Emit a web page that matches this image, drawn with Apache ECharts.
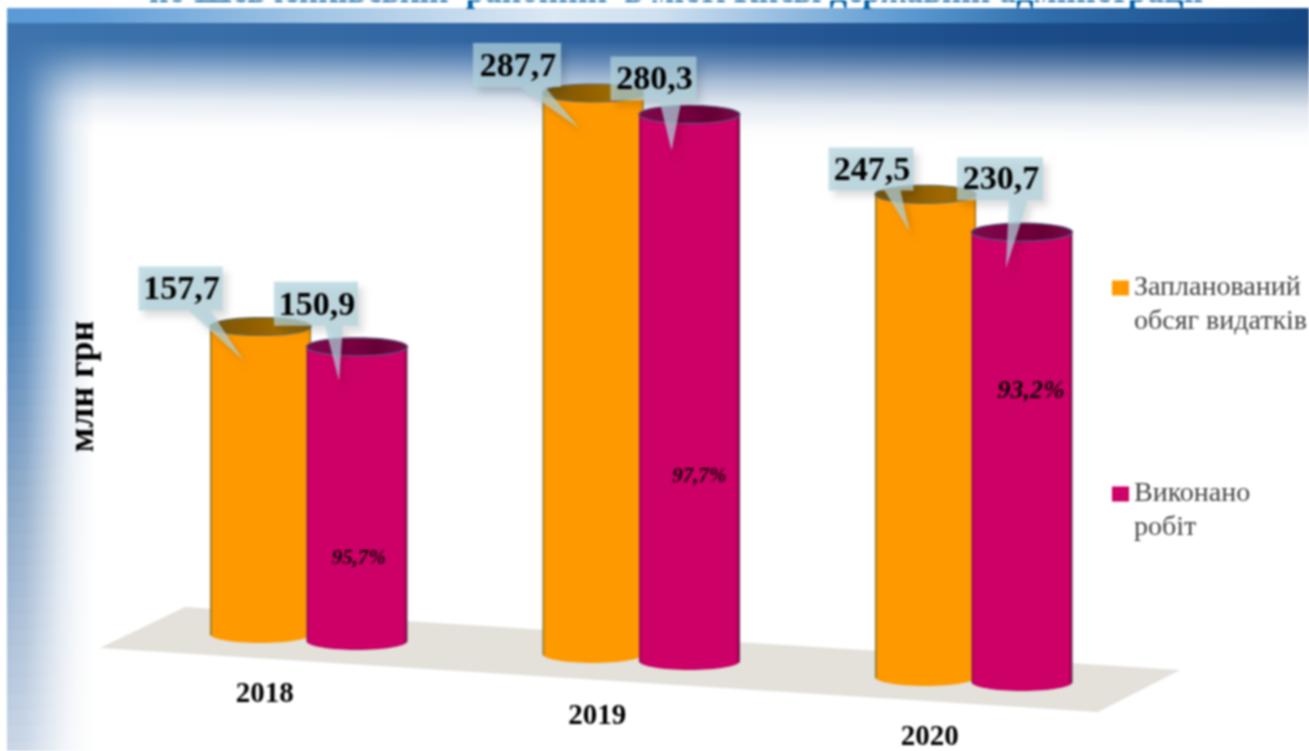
<!DOCTYPE html>
<html>
<head>
<meta charset="utf-8">
<style>
html,body{margin:0;padding:0;background:#fff;overflow:hidden}
#chart{width:1309px;height:751px;filter:blur(0.8px)}
</style>
<script src="https://cdn.jsdelivr.net/npm/echarts@6/dist/echarts.min.js"></script>
</head>
<body>
<div id="chart"></div>
<script>
// ---- data ----
const categories = ['2018', '2019', '2020'];
const plannedName = 'Запланований обсяг видатків';
const doneName = 'Виконано робіт';
const plannedValues = [157.7, 287.7, 247.5];
const doneValues = [150.9, 280.3, 230.7];
const donePercents = ['95,7%', '97,7%', '93,2%'];
const titleText = 'по Шевченківській  районній  в місті Києві державній адміністрації';
const unitText = 'млн грн';

// ---- layout / style (perspective of the picture, not data) ----
const SERIF = '"Liberation Serif", serif';
const ORANGE = '#FF9900', MAGENTA = '#CC0066';
const plannedDrop = [0, 20, 43], doneDrop = [7, 27, 48];
const plannedCallout = [
  {box: [-122, -60, 84, 44], base: [-72, -50], tip: [-17, 34]},
  {box: [-120, -50, 88, 44], base: [-73, -48], tip: [-14, 35]},
  {box: [-97, -47, 85, 43], base: [-41, -25], tip: [-16, 37]}
];
const doneCallout = [
  {box: [-83, -65, 84, 44], base: [-32, -14], tip: [-18, 34]},
  {box: [-79, -58, 86, 44], base: [-30, -8], tip: [-18, 36]},
  {box: [-65, -75, 86, 43], base: [-13, 6], tip: [-16, 36]}
];
const percentPlace = [{dx: 2, dy: 212, size: 21}, {dx: 10, dy: 362, size: 21}, {dx: 9, dy: 159, size: 26}];

function hex(c){return [1,3,5].map(i=>parseInt(c.substr(i,2),16));}
function lerpColor(stops, t){
  for(let i=1;i<stops.length;i++){
    if(t<=stops[i][0]){
      const a=stops[i-1],b=stops[i],k=(t-a[0])/(b[0]-a[0]);
      const ca=hex(a[1]),cb=hex(b[1]);
      return ca.map((v,j)=>Math.round(v+(cb[j]-v)*k));
    }
  }
  return hex(stops[stops.length-1][1]);
}
function buildBackground(){
  const W=1309,H=751,out=[];
  // left column: colour depends on y, alpha on x
  const colStops=[[0,'#4279b3'],[300,'#4a80b8'],[500,'#8ca8c8'],[751,'#c8d5e6']];
  const colAlpha=[[0,1],[.2,.9],[.4,.6],[.6,.3],[.77,.12],[1,0]];
  for(let y=22;y<H;y+=16){
    const c=lerpColor(colStops,y+8).join(',');
    out.push({type:'rect',silent:true,shape:{x:7,y:y,width:88,height:16},
      style:{fill:{type:'linear',x:0,y:0,x2:1,y2:0,colorStops:colAlpha.map(s=>({offset:s[0],color:'rgba('+c+','+s[1]+')'}))}}});
  }
  // top fade: colour depends on x, alpha on y (pixel rows, relative to the top of the fade)
  const topStops=[[0,'#3f75ae'],[650,'#2b5f9c'],[1000,'#1c4d8a'],[1309,'#16457f']];
  const topAlpha=[[0,1],[18,1],[33,.8],[55,.42],[78,.13],[103,.01],[115,0]];
  for(let x=7;x<W;x+=24){
    const c=lerpColor(topStops,x+12).join(',');
    const h=115+14*x/W;
    out.push({type:'rect',silent:true,shape:{x:x,y:22,width:24,height:h},
      style:{fill:{type:'linear',x:0,y:0,x2:0,y2:1,colorStops:topAlpha.map(s=>({offset:s[0]/115,color:'rgba('+c+','+s[1]+')'}))}}});
  }
  // lighter band under the title
  const bandStops=[[0,'#5b9bd5'],[.06,'#5f9dd8'],[.23,'#a0c4e4'],[.42,'#dce8f3'],[.5,'#d0e0f0'],[.61,'#8db8de'],[.69,'#5c9ad2'],[.8,'#2f6dab'],[1,'#144580']];
  out.push({type:'rect',silent:true,shape:{x:7,y:8,width:W-7,height:15},
    style:{fill:{type:'linear',x:0,y:0,x2:1,y2:0,colorStops:bandStops.map(s=>({offset:s[0],color:s[1]}))}}});
  // floor
  out.push({type:'polygon',silent:true,shape:{points:[[100,648],[185,607],[1180,670],[1098,712]]},style:{fill:'#E3E1DA'}});
  return out;
}

function cylinder(cx, r, topY, baseY, ry, bodyStops, capStops, edge){
  const body=[[cx-r,topY],[cx+r,topY]];
  for(let k=0;k<=32;k++){
    const a=Math.PI*k/32;
    body.push([cx+r*Math.cos(a),baseY+ry*Math.sin(a)]);
  }
  const cap=[];
  for(let k=0;k<48;k++){
    const a=2*Math.PI*k/48;
    cap.push([cx+r*Math.cos(a),topY+ry*Math.sin(a)]);
  }
  const grad=(st)=>new echarts.graphic.LinearGradient(0,0,1,0,st.map(s=>({offset:s[0],color:s[1]})));
  return {type:'group',children:[
    {type:'polygon',shape:{points:body},style:{fill:grad(bodyStops)}},
    {type:'polygon',shape:{points:cap},style:{fill:grad(capStops),stroke:edge,lineWidth:1.2}}
  ]};
}
const orangeBody=[[0,'#6d6030'],[.012,'#b98a20'],[.03,ORANGE],[.97,ORANGE],[.988,'#d98400'],[1,'#7a6030']];
const orangeCap=[[0,'#7a5a10'],[.35,'#8c5c00'],[.7,'#a06a00'],[1,'#8a6410']];
const magentaBody=[[0,'#70305a'],[.012,'#a80058'],[.03,MAGENTA],[.96,MAGENTA],[.985,'#9a0050'],[1,'#5a3a5a']];
const magentaCap=[[0,'#7a0a48'],[.4,'#7c0044'],[.7,'#650035'],[1,'#7a0a48']];

function cylinderSeries(name, values, color, drops, side, bodyStops, capStops, edge){
  return {
    type:'custom', name:name, itemStyle:{color:color}, z:3,
    data:values.map((v,i)=>[i,v]), encode:{x:0,y:1},
    renderItem:function(params,api){
      const i=api.value(0);
      const band=api.size([1,0])[0];
      const top=api.coord([i,api.value(1)]), zero=api.coord([i,0]);
      const cx=top[0]+side*band*0.145, r=band*0.152;
      return cylinder(cx,r,top[1]+drops[i],zero[1]+drops[i],9,bodyStops,capStops,edge);
    }
  };
}
function calloutSeries(name, values, drops, side, place, percents){
  return {
    type:'custom', name:name, z:5, tooltip:{show:false},
    data:values.map((v,i)=>[i,v]), encode:{x:0,y:1},
    renderItem:function(params,api){
      const i=api.value(0);
      const band=api.size([1,0])[0];
      const top=api.coord([i,api.value(1)]);
      const cx=top[0]+side*band*0.145, cy=top[1]+drops[i];
      const p=place[i], b=p.box;
      const x0=cx+b[0], y0=cy+b[1], x1=x0+b[2], y1=y0+b[3];
      const kids=[
        {type:'polygon',shape:{points:[[x0,y0],[x1,y0],[x1,y1],[cx+p.base[1],y1],[cx+p.tip[0],cy+p.tip[1]],[cx+p.base[0],y1],[x0,y1]]},
          style:{fill:'rgba(176,210,220,0.72)',shadowColor:'rgba(0,0,0,0.18)',shadowBlur:7,shadowOffsetX:5,shadowOffsetY:6}},
        {type:'text',style:{x:(x0+x1)/2+1,y:(y0+y1)/2+2,text:String(api.value(1)).replace('.',','),
          font:'bold 34px '+SERIF,fill:'#000',align:'center',verticalAlign:'middle'}}
      ];
      if(percents){
        const q=percentPlace[i];
        kids.push({type:'text',style:{x:cx+q.dx,y:cy+q.dy,text:percents[i],
          font:'italic bold '+q.size+'px '+SERIF,fill:'#100008',align:'center',verticalAlign:'middle'}});
      }
      return {type:'group',children:kids};
    }
  };
}

const yearRich={};
categories.forEach((c,i)=>{
  yearRich['y'+i]={padding:[[0,22,43][i],88,0,0],fontFamily:SERIF,fontWeight:'bold',fontSize:29,color:'#000'};
});

const chart=echarts.init(document.getElementById('chart'),null,{renderer:'canvas'});
chart.setOption({
  animation:false,
  backgroundColor:'#ffffff',
  title:{text:titleText,left:149,top:-24,padding:0,itemGap:0,
    textStyle:{fontFamily:SERIF,fontWeight:'bold',fontSize:34.2,color:'#0060A8'}},
  graphic:{elements:buildBackground()},
  grid:{left:142.5,width:997.5,top:49,height:585,containLabel:false,outerBoundsMode:'none'},
  legend:{orient:'vertical',left:1112,top:237,padding:0,itemWidth:17,itemHeight:15,itemGap:104,
    data:[{name:plannedName,icon:'rect'},{name:doneName,icon:'rect'}],
    selectedMode:false,
    formatter:n=>'\n'+n.replace(' ','\n'),
    textStyle:{fontFamily:SERIF,fontSize:28,lineHeight:34,color:'#444'}},
  xAxis:{type:'category',data:categories,axisLine:{show:false},axisTick:{show:false},
    axisLabel:{margin:46,interval:0,formatter:(v,i)=>'{y'+i+'|'+v+'}',rich:yearRich}},
  yAxis:{type:'value',min:0,max:300,interval:50,axisLine:{show:false},axisTick:{show:false},
    axisLabel:{show:false},splitLine:{show:false},
    name:unitText,nameLocation:'middle',nameGap:41,
    nameTextStyle:{fontFamily:SERIF,fontWeight:'bold',fontSize:36,color:'#000',padding:[0,90,0,0]}},
  series:[
    cylinderSeries(plannedName,plannedValues,ORANGE,plannedDrop,-1,orangeBody,orangeCap,'#5f7068'),
    cylinderSeries(doneName,doneValues,MAGENTA,doneDrop,1,magentaBody,magentaCap,'#5a5a80'),
    calloutSeries('Підписи: заплановано',plannedValues,plannedDrop,-1,plannedCallout,null),
    calloutSeries('Підписи: виконано',doneValues,doneDrop,1,doneCallout,donePercents)
  ]
});
</script>
</body>
</html>
